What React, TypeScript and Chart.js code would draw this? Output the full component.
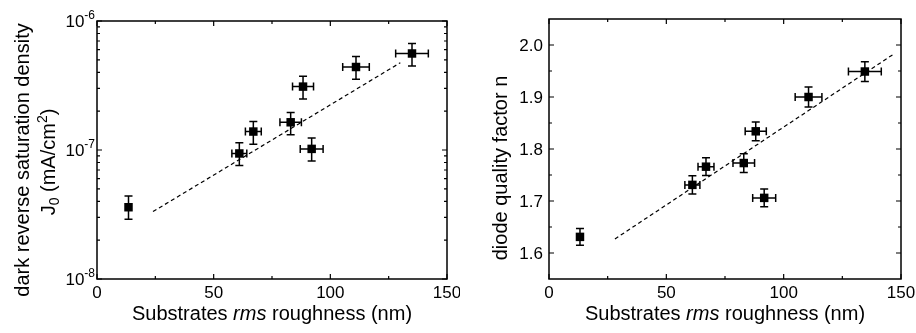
import React, { useEffect, useRef } from "react";
import { Chart, registerables } from "chart.js";
Chart.register(...registerables);

// ---- data ----
const roughnessJ = [13.5, 61, 67, 83, 88.3, 92, 111, 135];
const roughnessN = [13.2, 61.1, 66.9, 83, 88.1, 91.7, 110.6, 134.6];
const roughnessErr = [0, 3.2, 3.4, 4.6, 4.5, 4.9, 5.7, 7];
const j0 = [3.6e-8, 9.4e-8, 1.39e-7, 1.64e-7, 3.1e-7, 1.02e-7, 4.4e-7, 5.6e-7];
const j0ErrUp = [4.4e-8, 1.14e-7, 1.66e-7, 1.95e-7, 3.73e-7, 1.24e-7, 5.3e-7, 6.7e-7];
const j0ErrDown = [2.9e-8, 7.6e-8, 1.11e-7, 1.31e-7, 2.48e-7, 8.2e-8, 3.53e-7, 4.48e-7];
const nFactor = [1.631, 1.731, 1.766, 1.773, 1.834, 1.706, 1.9, 1.949];
const nErr = [0.016, 0.0175, 0.017, 0.018, 0.018, 0.017, 0.019, 0.019];
const j0FitX = [24, 130];
const j0FitY = [3.33e-8, 4.75e-7];
const nFitX = [28.1, 146.7];
const nFitY = [1.627, 1.982];

const xMajor = [0, 50, 100, 150];
const xMinor = [25, 75, 125];
const j0Major = [1e-8, 1e-7, 1e-6];
const j0MajorExp = ["-8", "-7", "-6"];
const j0Minor = [2e-8, 3e-8, 4e-8, 5e-8, 6e-8, 7e-8, 8e-8, 9e-8, 2e-7, 3e-7, 4e-7, 5e-7, 6e-7, 7e-7, 8e-7, 9e-7];
const nMajor = [1.6, 1.7, 1.8, 1.9, 2.0];
const nMinor = [1.65, 1.75, 1.85, 1.95];

const FONT = "'Liberation Sans', Arial, Helvetica, sans-serif";

type Run = { t: string; size: number; dy?: number; italic?: boolean };

function drawRuns(ctx: CanvasRenderingContext2D, runs: Run[], x: number, y: number, align: "center" | "right", rot = 0) {
  let W = 0;
  const ws: number[] = [];
  for (const r of runs) {
    ctx.font = `${r.italic ? "italic " : ""}${r.size}px ${FONT}`;
    const w = ctx.measureText(r.t).width;
    ws.push(w);
    W += w;
  }
  ctx.save();
  ctx.translate(x, y);
  if (rot) ctx.rotate(rot);
  ctx.textAlign = "left";
  ctx.textBaseline = "alphabetic";
  ctx.fillStyle = "#000";
  let cur = align === "center" ? -W / 2 : -W;
  runs.forEach((r, i) => {
    ctx.font = `${r.italic ? "italic " : ""}${r.size}px ${FONT}`;
    ctx.fillText(r.t, cur, r.dy || 0);
    cur += ws[i];
  });
  ctx.restore();
}

type Cfg = {
  yMajor: number[];
  yMinor: number[];
  yLabel: (ctx: CanvasRenderingContext2D, i: number, v: number, px: number, py: number) => void;
  yTitle: (ctx: CanvasRenderingContext2D, area: any) => void;
  xs: number[];
  ys: number[];
  yUp: number[];
  yDown: number[];
};

function makeDecor(cfg: Cfg) {
  return {
    id: "decor",
    afterDraw(chart: any) {
      const ctx: CanvasRenderingContext2D = chart.ctx;
      const a = chart.chartArea;
      const xs = chart.scales.x;
      const ys = chart.scales.y;
      ctx.save();
      ctx.strokeStyle = "#000";
      ctx.fillStyle = "#000";
      // error bars
      ctx.lineWidth = 1.5;
      for (let i = 0; i < cfg.xs.length; i++) {
        const px = xs.getPixelForValue(cfg.xs[i]);
        const py = ys.getPixelForValue(cfg.ys[i]);
        const yt = ys.getPixelForValue(cfg.yUp[i]);
        const yb = ys.getPixelForValue(cfg.yDown[i]);
        ctx.beginPath();
        ctx.moveTo(px, yt); ctx.lineTo(px, yb);
        ctx.moveTo(px - 4, yt); ctx.lineTo(px + 4, yt);
        ctx.moveTo(px - 4, yb); ctx.lineTo(px + 4, yb);
        const e = roughnessErr[i];
        if (e > 0) {
          const xl = xs.getPixelForValue(cfg.xs[i] - e);
          const xr = xs.getPixelForValue(cfg.xs[i] + e);
          ctx.moveTo(xl, py); ctx.lineTo(xr, py);
          ctx.moveTo(xl, py - 4); ctx.lineTo(xl, py + 4);
          ctx.moveTo(xr, py - 4); ctx.lineTo(xr, py + 4);
        }
        ctx.stroke();
      }
      // frame
      ctx.lineWidth = 1.5;
      ctx.strokeRect(a.left, a.top, a.right - a.left, a.bottom - a.top);
      // ticks
      ctx.lineWidth = 1.2;
      ctx.beginPath();
      const xt = (v: number, len: number) => {
        const p = xs.getPixelForValue(v);
        ctx.moveTo(p, a.bottom); ctx.lineTo(p, a.bottom - len);
        ctx.moveTo(p, a.top); ctx.lineTo(p, a.top + len);
      };
      const yt = (v: number, len: number) => {
        const p = ys.getPixelForValue(v);
        ctx.moveTo(a.left, p); ctx.lineTo(a.left + len, p);
        ctx.moveTo(a.right, p); ctx.lineTo(a.right - len, p);
      };
      xMajor.forEach((v) => xt(v, 5));
      xMinor.forEach((v) => xt(v, 3));
      cfg.yMajor.forEach((v) => yt(v, 5));
      cfg.yMinor.forEach((v) => yt(v, 3));
      ctx.stroke();
      // x tick labels
      ctx.font = `17px ${FONT}`;
      ctx.textAlign = "center";
      ctx.textBaseline = "middle";
      xMajor.forEach((v) => {
        ctx.fillText(String(v), xs.getPixelForValue(v), 293);
      });
      // y tick labels
      cfg.yMajor.forEach((v, i) => cfg.yLabel(ctx, i, v, a.left, ys.getPixelForValue(v)));
      // x title
      const cx = (a.left + a.right) / 2;
      drawRuns(ctx, [
        { t: "Substrates ", size: 20 },
        { t: "rms", size: 20, italic: true },
        { t: " roughness (nm)", size: 20 },
      ], cx, 320, "center");
      cfg.yTitle(ctx, a);
      ctx.restore();
    },
  };
}

function Panel(props: { left: number; width: number; padL: number; padR: number; padT: number; kind: "j" | "n" }) {
  const ref = useRef<HTMLCanvasElement | null>(null);
  useEffect(() => {
    const isJ = props.kind === "j";
    const xsData = isJ ? roughnessJ : roughnessN;
    const ysData = isJ ? j0 : nFactor;
    const pts = xsData.map((x, i) => ({ x, y: ysData[i] }));
    const fx = isJ ? j0FitX : nFitX;
    const fy = isJ ? j0FitY : nFitY;
    const fit = fx.map((x, i) => ({ x, y: fy[i] }));
    const cfg: Cfg = isJ
      ? {
          yMajor: j0Major,
          yMinor: j0Minor,
          yLabel: (ctx, i, v, px, py) => {
            drawRuns(ctx, [
              { t: "10", size: 17, dy: 0 },
              { t: j0MajorExp[i], size: 12, dy: -8 },
            ], px - 2, py + 6, "right");
          },
          yTitle: (ctx, a) => {
            const cy = (a.top + a.bottom) / 2 + 10;
            drawRuns(ctx, [{ t: "dark reverse saturation density", size: 20 }], 29, cy, "center", -Math.PI / 2);
            drawRuns(ctx, [
              { t: "J", size: 20 },
              { t: "0", size: 14, dy: 4 },
              { t: " (mA/cm", size: 20 },
              { t: "2", size: 14, dy: -8 },
              { t: ")", size: 20 },
            ], 55, cy + 2, "center", -Math.PI / 2);
          },
          xs: xsData,
          ys: ysData,
          yUp: j0ErrUp,
          yDown: j0ErrDown,
        }
      : {
          yMajor: nMajor,
          yMinor: nMinor,
          yLabel: (ctx, i, v, px, py) => {
            drawRuns(ctx, [{ t: v.toFixed(1), size: 17 }], px - 6, py + 6, "right");
          },
          yTitle: (ctx, a) => {
            drawRuns(ctx, [{ t: "diode quality factor n", size: 20 }], 47, 168, "center", -Math.PI / 2);
          },
          xs: xsData,
          ys: ysData,
          yUp: ysData.map((y, i) => y + nErr[i]),
          yDown: ysData.map((y, i) => y - nErr[i]),
        };

    const chart = new Chart(ref.current as HTMLCanvasElement, {
      type: "scatter",
      data: {
        datasets: [
          {
            data: pts,
            pointStyle: "rect",
            pointRadius: 6,
            backgroundColor: "#000",
            borderColor: "#000",
            borderWidth: 0,
          } as any,
          {
            type: "line",
            data: fit,
            borderColor: "#000",
            borderWidth: 1.2,
            borderDash: [4, 3],
            pointRadius: 0,
            showLine: true,
            fill: false,
          } as any,
        ],
      },
      options: {
        responsive: false,
        maintainAspectRatio: false,
        devicePixelRatio: 1,
        animation: false,
        layout: { padding: { left: 0, right: props.padR, top: props.padT, bottom: 0 } },
        plugins: { legend: { display: false }, tooltip: { enabled: false } },
        scales: {
          x: {
            type: "linear",
            min: 0,
            max: 150,
            ticks: { display: false },
            grid: { display: false },
            border: { display: false },
            afterFit: (s: any) => { s.height = 54; },
          },
          y: isJ
            ? {
                type: "logarithmic",
                min: 1e-8,
                max: 1e-6,
                ticks: { display: false },
                grid: { display: false },
                border: { display: false },
                afterFit: (s: any) => { s.width = props.padL; },
              }
            : {
                type: "linear",
                min: 1.55,
                max: 2.05,
                ticks: { display: false },
                grid: { display: false },
                border: { display: false },
                afterFit: (s: any) => { s.width = props.padL; },
              },
        },
      } as any,
      plugins: [makeDecor(cfg)],
    });
    return () => chart.destroy();
  }, []);
  return (
    <canvas
      ref={ref}
      width={props.width}
      height={333}
      style={{ position: "absolute", left: props.left, top: 0, width: props.width, height: 333 }}
    />
  );
}

export default function App() {
  return (
    <div style={{ position: "absolute", left: 0, top: 0, width: 916, height: 333, background: "#fff", overflow: "hidden" }}>
      <Panel kind="j" left={0} width={460} padL={97} padR={13} padT={21} />
      <Panel kind="n" left={460} width={456} padL={89} padR={15} padT={19} />
    </div>
  );
}
